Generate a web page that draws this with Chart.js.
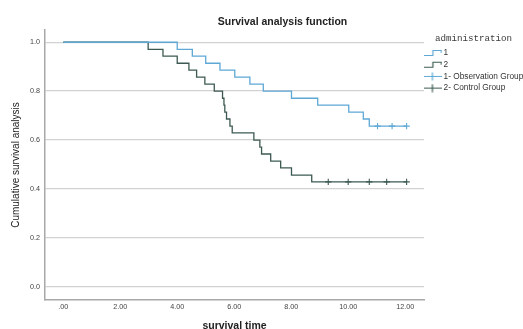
<!DOCTYPE html>
<html>
<head>
<meta charset="utf-8">
<script src="https://cdn.jsdelivr.net/npm/chart.js@4/dist/chart.umd.min.js"></script>
<style>
  html, body { margin: 0; padding: 0; background: #ffffff; }
  #wrap { width: 523px; height: 329px; }
</style>
</head>
<body>
<div id="wrap"><canvas id="c" width="523" height="329"></canvas></div>
<script>
// ---- data ----
const obsTimes = [0, 4.00, 4.53, 5.00, 5.50, 6.02, 6.55, 7.02, 8.01, 8.93, 10.02, 10.53, 10.74, 12.05];
const obsSurv  = [1.0, 0.971, 0.943, 0.914, 0.886, 0.857, 0.829, 0.800, 0.771, 0.743, 0.714, 0.686, 0.657, 0.657];
const obsCensorTimes = [11.03, 11.54, 12.05];
const obsCensorSurv  = [0.657, 0.657, 0.657];

const ctrlTimes = [0, 2.98, 3.50, 4.00, 4.41, 4.68, 4.97, 5.30, 5.59, 5.64, 5.67, 5.73, 5.85, 5.93, 6.69, 6.90, 6.96, 7.28, 7.63, 8.01, 8.72, 12.05];
const ctrlSurv  = [1.0, 0.971, 0.943, 0.914, 0.886, 0.857, 0.829, 0.800, 0.771, 0.743, 0.714, 0.686, 0.657, 0.629, 0.600, 0.571, 0.543, 0.514, 0.486, 0.457, 0.429, 0.429];
const ctrlCensorTimes = [9.30, 10.00, 10.74, 11.35, 12.05];
const ctrlCensorSurv  = [0.429, 0.429, 0.429, 0.429, 0.429];

const xTickValues = [0, 2, 4, 6, 8, 10, 12];
const xTickLabels = ['.00', '2.00', '4.00', '6.00', '8.00', '10.00', '12.00'];
const yTickValues = [0, 0.2, 0.4, 0.6, 0.8, 1.0];
const yTickLabels = ['0.0', '0.2', '0.4', '0.6', '0.8', '1.0'];

const seriesLabels = ['1', '2', '1- Observation Group', '2- Control Group'];
const legendTitle = 'administration';
const chartTitle = 'Survival analysis function';
const xTitle = 'survival time';
const yTitle = 'Cumulative survival analysis';

// ---- styling ----
const BLUE = '#5ea8d6';
const DARK = '#3d5a52';
const SANS = '"Liberation Sans", Arial, sans-serif';

function toPts(xs, ys) { return xs.map((x, i) => ({ x: x, y: ys[i] })); }

function stepSymbol(color) {
  const c = document.createElement('canvas');
  c.width = 18; c.height = 8;
  const g = c.getContext('2d');
  g.strokeStyle = color; g.lineWidth = 1.2;
  g.beginPath();
  g.moveTo(0, 6.5); g.lineTo(8.5, 6.5); g.lineTo(8.5, 1.5); g.lineTo(17, 1.5); g.lineTo(17, 4);
  g.stroke();
  return c;
}
function crossSymbol(color) {
  const c = document.createElement('canvas');
  c.width = 18; c.height = 9;
  const g = c.getContext('2d');
  g.strokeStyle = color; g.lineWidth = 1.2;
  g.beginPath();
  g.moveTo(0, 4.5); g.lineTo(18, 4.5);
  g.moveTo(8, 0.5); g.lineTo(8, 8.5);
  g.stroke();
  return c;
}
const legendSymbols = [stepSymbol(BLUE), stepSymbol(DARK), crossSymbol(BLUE), crossSymbol(DARK)];

const titleShift = {
  id: 'titleShift',
  afterLayout(chart) {
    const t = chart.titleBlock;
    if (t) { t.left = 42; t.right = 523; }
  }
};

new Chart(document.getElementById('c'), {
  type: 'scatter',
  data: {
    datasets: [
      { label: seriesLabels[0], data: toPts(obsTimes, obsSurv), showLine: true, stepped: 'before',
        borderColor: BLUE, borderWidth: 1.3, pointRadius: 0, fill: false },
      { label: seriesLabels[1], data: toPts(ctrlTimes, ctrlSurv), showLine: true, stepped: 'before',
        borderColor: DARK, borderWidth: 1.3, pointRadius: 0, fill: false },
      { label: seriesLabels[2], data: toPts(obsCensorTimes, obsCensorSurv), showLine: false,
        pointStyle: 'cross', pointRadius: 3.2, borderColor: BLUE, pointBorderWidth: 1.1, backgroundColor: BLUE },
      { label: seriesLabels[3], data: toPts(ctrlCensorTimes, ctrlCensorSurv), showLine: false,
        pointStyle: 'cross', pointRadius: 3.2, borderColor: DARK, pointBorderWidth: 1.1, backgroundColor: DARK }
    ]
  },
  options: {
    responsive: false,
    animation: false,
    devicePixelRatio: 1,
    layout: { padding: 0 },
    plugins: {
      tooltip: { enabled: false },
      title: {
        display: true, text: chartTitle, color: '#222',
        font: { family: SANS, size: 10.5, weight: 'bold' },
        padding: { top: 15.5, bottom: 1.9 }
      },
      legend: {
        position: 'right', align: 'start', fullSize: false, maxWidth: 99,
        title: {
          display: true, text: legendTitle, position: 'center', color: '#3a3a3a',
          font: { family: '"Liberation Mono", "DejaVu Sans Mono", monospace', size: 9.2 },
          padding: { top: 4.3, bottom: 0.1 }
        },
        labels: {
          usePointStyle: true, pointStyleWidth: 12, padding: 3.4, color: '#333',
          font: { family: SANS, size: 8.3 },
          boxHeight: 10,
          generateLabels(chart) {
            return chart.data.datasets.map((ds, i) => ({
              text: ds.label, pointStyle: legendSymbols[i], fontColor: '#333',
              hidden: false, datasetIndex: i, lineWidth: 0, strokeStyle: 'rgba(0,0,0,0)', fillStyle: 'rgba(0,0,0,0)'
            }));
          }
        }
      }
    },
    scales: {
      x: {
        type: 'linear', min: -0.64, max: 12.66,
        afterBuildTicks(s) { s.ticks = xTickValues.map(v => ({ value: v })); },
        afterFit(s) { s.height = 29; },
        grid: { display: false, drawTicks: false },
        border: { display: true, color: '#a8a8a8', width: 1.5 },
        ticks: { padding: 3, color: '#444', font: { family: SANS, size: 7.2 },
                 callback: (v, i) => xTickLabels[i] },
        title: { display: true, text: xTitle, color: '#222',
                 font: { family: SANS, size: 10.5, weight: 'bold' },
                 padding: { top: 0, bottom: -3.3 } }
      },
      y: {
        type: 'linear', min: -0.054, max: 1.05,
        afterBuildTicks(s) { s.ticks = yTickValues.map(v => ({ value: v })); },
        afterFit(s) { s.width = 45; },
        grid: { display: true, drawTicks: false, color: '#d2d2d2', lineWidth: 1.3 },
        border: { display: true, color: '#a8a8a8', width: 1.5 },
        ticks: { padding: 5, color: '#444', font: { family: SANS, size: 7.2 },
                 callback: (v, i) => yTickLabels[i] },
        title: { display: true, text: yTitle, color: '#222',
                 font: { family: SANS, size: 10 },
                 padding: { top: 10, bottom: 2 } }
      }
    }
  },
  plugins: [titleShift]
});
</script>
</body>
</html>
